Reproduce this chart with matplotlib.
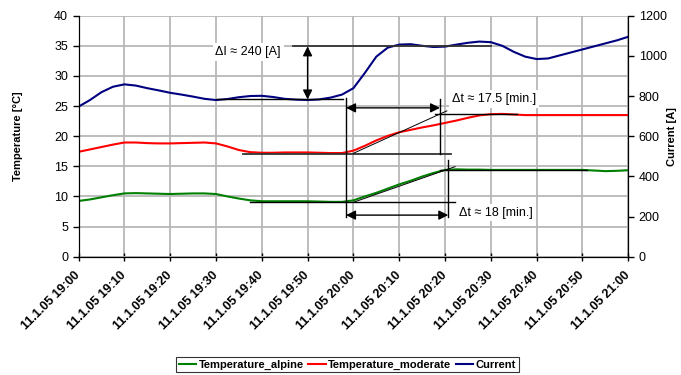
import matplotlib
matplotlib.use("Agg")
import matplotlib.pyplot as plt

plt.rcParams['font.family'] = ['Liberation Sans', 'DejaVu Sans']

# minutes after 19:00, 2.5 min steps
minutes = [0, 2.5, 5, 7.5, 10, 12.5, 15, 17.5, 20, 22.5, 25, 27.5, 30, 32.5, 35, 37.5,
           40, 42.5, 45, 47.5, 50, 52.5, 55, 57.5, 60, 62.5, 65, 67.5, 70, 72.5, 75, 77.5,
           80, 82.5, 85, 87.5, 90, 92.5, 95, 97.5, 100, 102.5, 105, 107.5, 110, 112.5,
           115, 117.5, 120]

temp_alpine = [9.25, 9.5, 9.85, 10.2, 10.5, 10.55, 10.5, 10.45, 10.4, 10.45, 10.5, 10.5,
               10.4, 10.0, 9.65, 9.35, 9.2, 9.2, 9.2, 9.2, 9.2, 9.15, 9.1, 9.1, 9.35, 10.0,
               10.6, 11.3, 12.0, 12.6, 13.3, 13.9, 14.4, 14.5, 14.45, 14.45, 14.4, 14.4,
               14.4, 14.4, 14.4, 14.4, 14.4, 14.4, 14.4, 14.3, 14.2, 14.25, 14.35]

temp_moderate = [17.4, 17.8, 18.2, 18.6, 18.95, 18.95, 18.85, 18.8, 18.8, 18.85, 18.9,
                 18.95, 18.8, 18.3, 17.7, 17.35, 17.25, 17.25, 17.3, 17.3, 17.3, 17.25,
                 17.2, 17.2, 17.6, 18.4, 19.3, 20.05, 20.65, 21.05, 21.45, 21.8, 22.2,
                 22.6, 23.05, 23.45, 23.65, 23.7, 23.6, 23.5, 23.5, 23.5, 23.5, 23.5,
                 23.5, 23.5, 23.5, 23.5, 23.5]

current = [747, 780, 819, 846, 858, 852, 839, 828, 816, 807, 797, 786, 780, 785, 794, 800,
           801, 795, 786, 782, 780, 783, 792, 807, 839, 915, 996, 1041, 1056, 1058, 1050,
           1044, 1046, 1056, 1065, 1071, 1068, 1050, 1020, 996, 984, 987, 1002, 1017,
           1032, 1047, 1062, 1077, 1095]

tick_minutes = list(range(0, 121, 10))
tick_labels = ['11.1.05 19:00', '11.1.05 19:10', '11.1.05 19:20', '11.1.05 19:30',
               '11.1.05 19:40', '11.1.05 19:50', '11.1.05 20:00', '11.1.05 20:10',
               '11.1.05 20:20', '11.1.05 20:30', '11.1.05 20:40', '11.1.05 20:50',
               '11.1.05 21:00']

fig = plt.figure(figsize=(6.81, 3.75), dpi=100)
ax = fig.add_axes([0.1153, 0.3155, 0.8073, 0.6427])
ax2 = ax.twinx()

ax.set_xlim(0, 120)
ax.set_ylim(0, 40)
ax2.set_ylim(0, 1200)
ax.set_yticks(range(0, 41, 5))
ax2.set_yticks(range(0, 1201, 200))
ax.set_xticks(tick_minutes)
ax.set_xticklabels(tick_labels, rotation=45, ha='right', va='center',
                   rotation_mode='anchor', fontsize=7, fontweight='bold')
ax.grid(True, color='#b8b8b8', lw=1.3)
ax.set_axisbelow(True)
for a in (ax, ax2):
    a.spines['top'].set_visible(False)
    a.tick_params(labelsize=9, length=4, width=1)
ax.tick_params(axis='x', direction='inout', length=6, pad=9)
ax.set_ylabel('Temperature [°C]', fontsize=8, fontweight='bold')
ax.yaxis.set_label_coords(-0.101, 0.5)
ax2.set_ylabel('Current [A]', fontsize=8, fontweight='bold')
ax2.yaxis.set_label_coords(1.071, 0.5)

l1, = ax.plot(minutes, temp_alpine, color='#008000', lw=1.5, label='Temperature_alpine')
l2, = ax.plot(minutes, temp_moderate, color='#ff0000', lw=1.5, label='Temperature_moderate')
l3, = ax2.plot(minutes, current, color='#000080', lw=1.5, label='Current')

# annotation lines
k = 'black'
ax2.plot([46.8, 90], [34.9 * 30, 34.9 * 30], color='#333333', lw=1.3)
ax2.plot([30.2, 57.8], [26.1 * 30, 26.1 * 30], color=k, lw=1)
ax2.plot([36, 81.3], [17.05 * 30, 17.05 * 30], color='#333333', lw=1.3)
ax2.plot([77.8, 95.7], [23.6 * 30, 23.6 * 30], color=k, lw=1)
ax2.plot([60, 80.4], [17.16 * 30, 24.2 * 30], color=k, lw=0.7)
ax2.plot([78.9, 78.9], [17.05 * 30, 26.1 * 30], color=k, lw=1)
ax2.plot([58.4, 58.4], [6.6 * 30, 26.3 * 30], color=k, lw=1)
ax2.plot([37.4, 82.2], [9.03 * 30, 9.03 * 30], color=k, lw=1)
ax2.plot([78.9, 110.9], [14.45 * 30, 14.45 * 30], color=k, lw=1)
ax2.plot([60, 82.2], [9.03 * 30, 14.94 * 30], color=k, lw=0.7)
ax2.plot([80.7, 80.7], [6.64 * 30, 16.05 * 30], color=k, lw=1)

arrow = dict(arrowstyle='<|-|>', color=k, lw=1, mutation_scale=14, shrinkA=0, shrinkB=0)
ax2.annotate('', xy=(50, 26.1 * 30), xytext=(50, 34.9 * 30), arrowprops=arrow)
ax2.annotate('', xy=(58.4, 24.7 * 30), xytext=(78.9, 24.7 * 30), arrowprops=arrow)
ax2.annotate('', xy=(58.4, 6.9 * 30), xytext=(80.7, 6.9 * 30), arrowprops=arrow)

box = dict(facecolor='white', edgecolor='none', pad=2)
ax2.text(37, 34.0 * 30, 'ΔI ≈ 240 [A]', ha='center', va='center', fontsize=9, bbox=box)
ax2.text(90.7, 26.2 * 30, 'Δt ≈ 17.5 [min.]', ha='center', va='center', fontsize=9, bbox=box)
ax2.text(91.1, 7.3 * 30, 'Δt ≈ 18 [min.]', ha='center', va='center', fontsize=9, bbox=box)

leg = fig.legend(handles=[l1, l2, l3], loc='lower center', bbox_to_anchor=(0.51, -0.008),
                 ncol=3, fancybox=False, edgecolor='black', handlelength=1.6,
                 handletextpad=0.2, columnspacing=0.4, borderpad=0.25,
                 prop={'size': 8, 'weight': 'bold'})
leg.get_frame().set_linewidth(0.8)

fig.savefig('out.png', dpi=100)
